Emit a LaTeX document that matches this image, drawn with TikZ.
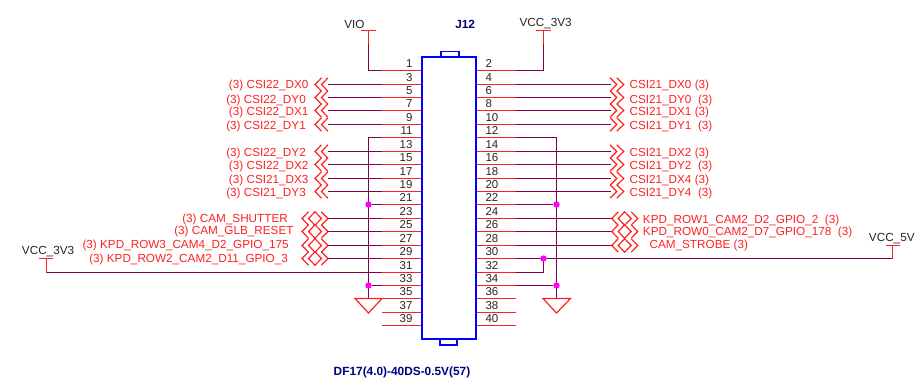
\documentclass[tikz,border=0pt]{standalone}
\usepackage{fontspec}
\setmainfont{Liberation Sans}
\definecolor{wirec}{HTML}{800050}
\definecolor{sig}{HTML}{FF2020}
\definecolor{boxb}{HTML}{0000FF}
\definecolor{dotc}{HTML}{FF00FF}
\definecolor{refc}{HTML}{000080}
\tikzset{
  wire/.style={wirec,line width=0.95pt},
  pinl/.style={sig,line width=0.95pt},
  comp/.style={boxb,line width=1.1pt},
  sym/.style={sig,line width=0.9pt},
  lab/.style={sig,font=\fontsize{8.8}{10}\selectfont,inner sep=0pt},
  num/.style={black!85,font=\fontsize{8.6}{10}\selectfont,inner sep=0pt},
  pwr/.style={black!85,font=\fontsize{8.8}{10}\selectfont,inner sep=0pt},
  ref/.style={refc,font=\bfseries\fontsize{8.9}{10}\selectfont,inner sep=0pt},
  junction/.style={circle,fill=dotc,inner sep=0pt,minimum size=4.8pt}
}
\begin{document}
\begin{tikzpicture}[x=0.75pt,y=-0.75pt]
\useasboundingbox (0,0) rectangle (922,389);
\pgfmathsetmacro{\rowstep}{13.43}
% pins
\foreach \i in {0,...,19}{
  \pgfmathsetmacro{\yy}{floor(70.6+\i*\rowstep)+0.5}
  \pgfmathtruncatemacro{\lft}{2*\i+1}
  \pgfmathtruncatemacro{\rgt}{2*\i+2}
  \coordinate (L\lft) at (382,\yy);
  \coordinate (R\rgt) at (516,\yy);
  \draw[pinl] (L\lft) -- (422,\yy);
  \draw[pinl] (476,\yy) -- (R\rgt);
  \node[num,anchor=base east] at (412.7,\yy-3) {\lft};
  \node[num,anchor=base west] at (485.3,\yy-3) {\rgt};
}
% connector body
\node[draw=boxb,line width=1.1pt,minimum width=40.5pt,minimum height=211.5pt,inner sep=0pt] (body) at (449,198) {};
\draw[comp] (441,57) rectangle (459,51.5);
\draw[comp] (440,339) rectangle (457,345);
\node[ref,anchor=west] (j) at (455,24) {J12};
\node[ref] (part) at (402,372.7) {DF17(4.0)-40DS-0.5V(57)};
% left off-page signals
\foreach \n/\tx/\ty/\txt in {3/228.7/85.7/{(3) CSI22\_DX0},5/226/100/{(3) CSI22\_DY0},7/228.7/112.4/{(3) CSI22\_DX1},9/226/126.7/{(3) CSI22\_DY1},13/226/153.7/{(3) CSI22\_DY2},15/228.7/166.4/{(3) CSI22\_DX2},17/228.7/180.7/{(3) CSI21\_DX3},19/226/193.7/{(3) CSI21\_DY3}}{
  \path (L\n) ++(-54,0) coordinate (E\n);
  \draw[wire] (L\n) -- (E\n);
  \draw[sym] (E\n) ++(0,-6.7) -- ++(-6.5,6.7) -- ++(6.5,6.7);
  \draw[sym] (E\n) ++(-6.5,-6.7) -- ++(-6.5,6.7) -- ++(6.5,6.7);
  \node[lab,anchor=west] (T\n) at (\tx,\ty) {\txt};
}
% right off-page signals
\foreach \n/\ty/\txt in {4/85.7/{CSI21\_DX0 (3)},6/100/{CSI21\_DY0\ \ (3)},8/112.7/{CSI21\_DX1 (3)},10/126.7/{CSI21\_DY1\ \ (3)},14/153.7/{CSI21\_DX2 (3)},16/166.7/{CSI21\_DY2\ \ (3)},18/180.7/{CSI21\_DX4 (3)},20/193.7/{CSI21\_DY4\ \ (3)}}{
  \path (R\n) ++(95,0) coordinate (E\n);
  \draw[wire] (R\n) -- (E\n);
  \draw[sym] (E\n) ++(-1,-6.7) -- ++(6.7,6.7) -- ++(-6.7,6.7);
  \draw[sym] (E\n) ++(5.7,-6.7) -- ++(7,6.7) -- ++(-7,6.7);
  \node[lab,anchor=west] (T\n) at (629.3,\ty) {\txt};
}
% left bidirectional signals
\foreach \n/\tx/\ty/\txt in {23/182/219.7/{(3) CAM\_SHUTTER},25/174/231.4/{(3) CAM\_GLB\_RESET},27/82.3/245.7/{(3) KPD\_ROW3\_CAM4\_D2\_GPIO\_175},29/89/259.7/{(3) KPD\_ROW2\_CAM2\_D11\_GPIO\_3}}{
  \path (L\n) ++(-54,0) coordinate (E\n);
  \draw[wire] (L\n) -- (E\n);
  \draw[sym] (E\n) ++(-6.6,-6.7) -- ++(6.6,6.7) -- ++(-6.6,6.7);
  \draw[sym] (E\n) ++(-13,-6.7) -- ++(6.5,6.7) -- ++(-6.5,6.7) -- ++(-6.5,-6.7) -- cycle;
  \draw[sym] (E\n) ++(-19.5,-6.7) -- ++(-6.5,6.7) -- ++(6.5,6.7);
  \node[lab,anchor=west] (T\n) at (\tx,\ty) {\txt};
}
% right bidirectional signals
\foreach \n/\tx/\ty/\txt in {24/642.7/220/{KPD\_ROW1\_CAM2\_D2\_GPIO\_2\ \ (3)},26/642.7/232.7/{KPD\_ROW0\_CAM2\_D7\_GPIO\_178\ \ (3)},28/649.3/245.7/{CAM\_STROBE (3)}}{
  \path (R\n) ++(95.7,0) coordinate (E\n);
  \draw[wire] (R\n) -- (E\n);
  \draw[sym] (E\n) ++(6.5,-6.7) -- ++(-6.5,6.7) -- ++(6.5,6.7);
  \draw[sym] (E\n) ++(13,-6.7) -- ++(6.5,6.7) -- ++(-6.5,6.7) -- ++(-6.5,-6.7) -- cycle;
  \draw[sym] (E\n) ++(19.5,-6.7) -- ++(6.5,6.7) -- ++(-6.5,6.7);
  \node[lab,anchor=west] (T\n) at (\tx,\ty) {\txt};
}
% power: VIO
\coordinate (vioTop) at (368.5,30.5);
\coordinate (vioMid) at (368.5,44);
\draw[sym] (361,30.5) -- (376,30.5);
\draw[sym] (vioTop) -- (vioMid);
\draw[wire] (vioMid) |- (L1);
\node[pwr,anchor=west] (vio) at (344,24) {VIO};
% power: VCC_3V3 top
\coordinate (vccTop) at (543.5,30.5);
\coordinate (vccMid) at (543.5,44);
\draw[sym] (536,30.5) -- (551,30.5);
\draw[sym] (vccTop) -- (vccMid);
\draw[wire] (vccMid) |- (R2);
\node[pwr,anchor=west] (vcca) at (519.3,24) {VCC\_3V3};
% power: VCC_3V3 left
\coordinate (vccLeft) at (L31 -| 46.5,0);
\coordinate (vccLeftTop) at (46.5,258.5);
\draw[sym] (39,258.5) -- (53,258.5);
\draw[sym] (vccLeftTop) -- (vccLeft);
\draw[wire] (vccLeft) -- (L31);
\node[pwr,anchor=west] (vccb) at (21.7,252) {VCC\_3V3};
% power: VCC_5V
\coordinate (v5) at (R30 -| 892.5,0);
\coordinate (jb) at (R30 -| 543.5,0);
\coordinate (v5Top) at (892.5,245.5);
\draw[wire] (R30) -- (v5);
\draw[sym] (886,245.5) -- (900,245.5);
\draw[sym] (v5Top) -- (v5);
\draw[wire] (R32) -| (jb);
\node[junction] (j5) at (jb) {};
\node[pwr,anchor=west] (vccc) at (868.7,239) {VCC\_5V};
% ground, left
\coordinate (gl) at (L35 -| 368.5,0);
\draw[wire] (L11) -| (gl);
\node[junction] (ja) at (L21 -| 368.5,0) {};
\node[junction] (jc) at (L33 -| 368.5,0) {};
\draw[wire] (L21) -- (ja);
\draw[wire] (L33) -- (jc);
\draw[sym] (355,298.5) -- (L35) -- (368.5,313) -- cycle;
% ground, right
\coordinate (gr) at (R36 -| 556.5,0);
\draw[wire] (R12) -| (gr);
\node[junction] (jd) at (R22 -| 556.5,0) {};
\node[junction] (je) at (R34 -| 556.5,0) {};
\draw[wire] (R22) -- (jd);
\draw[wire] (R34) -- (je);
\draw[sym] (543,298.5) -- (570.5,298.5) -- (556.5,313) -- cycle;
\end{tikzpicture}
\end{document}
